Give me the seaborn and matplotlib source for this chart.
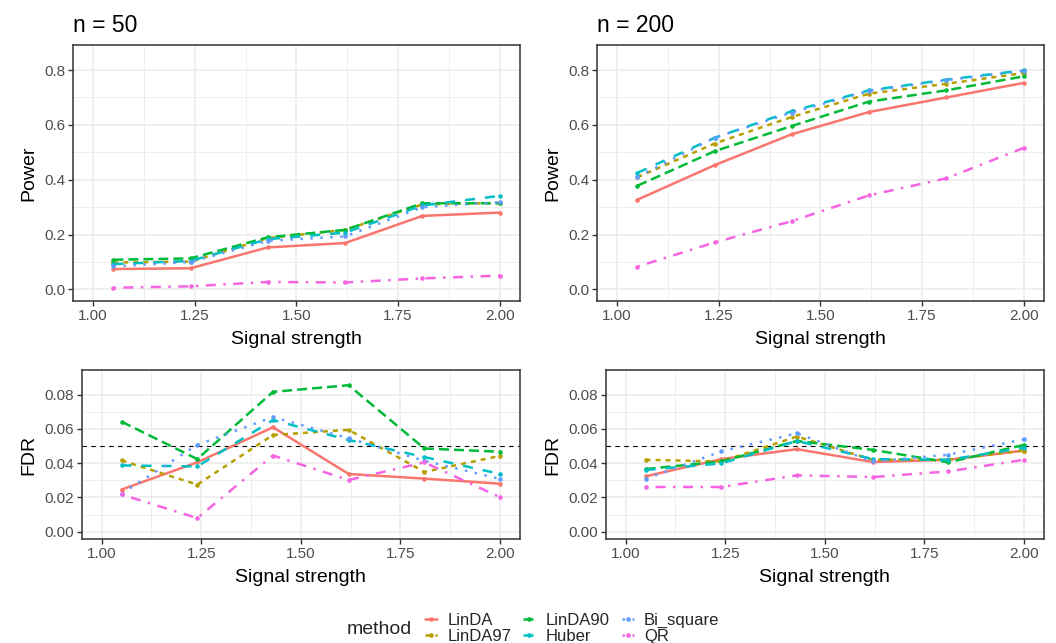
import numpy as np
import pandas as pd
import seaborn as sns
import matplotlib
matplotlib.use("Agg")
import matplotlib.pyplot as plt
from matplotlib.ticker import FixedLocator, FormatStrFormatter

# ---- data -------------------------------------------------------------
signal = [1.05, 1.24, 1.43, 1.62, 1.81, 2.00]
methods = ["LinDA", "LinDA97", "LinDA90", "Huber", "Bi_square", "QR"]

power_n50 = {
    "LinDA":     [0.074, 0.077, 0.153, 0.169, 0.268, 0.280],
    "LinDA97":   [0.098, 0.101, 0.187, 0.217, 0.310, 0.315],
    "LinDA90":   [0.108, 0.113, 0.190, 0.217, 0.314, 0.314],
    "Huber":     [0.092, 0.104, 0.183, 0.207, 0.306, 0.341],
    "Bi_square": [0.084, 0.100, 0.177, 0.193, 0.300, 0.318],
    "QR":        [0.006, 0.011, 0.027, 0.025, 0.040, 0.050],
}
power_n200 = {
    "LinDA":     [0.327, 0.453, 0.566, 0.647, 0.700, 0.753],
    "LinDA97":   [0.409, 0.532, 0.629, 0.714, 0.750, 0.789],
    "LinDA90":   [0.378, 0.504, 0.596, 0.685, 0.726, 0.777],
    "Huber":     [0.425, 0.553, 0.650, 0.726, 0.765, 0.799],
    "Bi_square": [0.410, 0.553, 0.645, 0.724, 0.763, 0.797],
    "QR":        [0.083, 0.171, 0.249, 0.343, 0.405, 0.516],
}
fdr_n50 = {
    "LinDA":     [0.0246, 0.0405, 0.0610, 0.0337, 0.0310, 0.0280],
    "LinDA97":   [0.0416, 0.0275, 0.0565, 0.0595, 0.0349, 0.0443],
    "LinDA90":   [0.0643, 0.0424, 0.0817, 0.0856, 0.0486, 0.0467],
    "Huber":     [0.0387, 0.0381, 0.0652, 0.0536, 0.0436, 0.0337],
    "Bi_square": [0.0222, 0.0507, 0.0670, 0.0546, 0.0414, 0.0308],
    "QR":        [0.0217, 0.0079, 0.0445, 0.0302, 0.0405, 0.0201],
}
fdr_n200 = {
    "LinDA":     [0.0323, 0.0424, 0.0482, 0.0407, 0.0420, 0.0474],
    "LinDA97":   [0.0420, 0.0410, 0.0556, 0.0420, 0.0420, 0.0474],
    "LinDA90":   [0.0366, 0.0410, 0.0530, 0.0478, 0.0405, 0.0507],
    "Huber":     [0.0360, 0.0399, 0.0530, 0.0424, 0.0420, 0.0490],
    "Bi_square": [0.0308, 0.0469, 0.0575, 0.0410, 0.0450, 0.0540],
    "QR":        [0.0261, 0.0261, 0.0329, 0.0319, 0.0352, 0.0420],
}
nominal_fdr = 0.05

x_ticks = [1.00, 1.25, 1.50, 1.75, 2.00]
power_ticks = [0.0, 0.2, 0.4, 0.6, 0.8]
fdr_ticks = [0.00, 0.02, 0.04, 0.06, 0.08]

# ---- styling ----------------------------------------------------------
sns.set_theme(style="white")
plt.rcParams["font.family"] = ["Liberation Sans", "DejaVu Sans"]

palette = dict(zip(methods, ["#F8766D", "#B79F00", "#00BA38",
                             "#00BFC4", "#619CFF", "#F564E3"]))
dashes = dict(zip(methods, ["", (2, 2), (4, 2), (4, 4), (1, 3), (1, 3, 4, 3)]))
markers = dict(zip(methods, ["o"] * 6))

GRID = "#EBEBEB"
DARK = "#333333"
TICKTXT = "#4D4D4D"

W, H = 1056, 643
fig = plt.figure(figsize=(W / 100, H / 100), dpi=100)


def px_axes(left, top, right, bottom):
    return fig.add_axes([left / W, 1 - bottom / H, (right - left) / W, (bottom - top) / H])


def long_frame(table):
    rows = []
    for m in methods:
        for s, v in zip(signal, table[m]):
            rows.append({"signal": s, "value": v, "method": m})
    df = pd.DataFrame(rows)
    df["method"] = pd.Categorical(df["method"], categories=methods, ordered=True)
    return df


def panel(ax, table, yticks, ylim, ylabel, yfmt, hline=None, legend=False):
    ax.set_axisbelow(True)
    sns.lineplot(data=long_frame(table), x="signal", y="value", hue="method",
                 style="method", hue_order=methods, style_order=methods,
                 palette=palette, dashes=dashes, markers=markers,
                 linewidth=1.8, markersize=3.3, markeredgewidth=0,
                 legend=legend, ax=ax, zorder=3)
    if hline is not None:
        ax.axhline(hline, color="black", lw=0.8, ls=(0, (4, 4)), zorder=2)
    ax.set_xlim(0.95, 2.05)
    ax.set_ylim(*ylim)
    ax.xaxis.set_major_locator(FixedLocator(x_ticks))
    ax.xaxis.set_minor_locator(FixedLocator([1.125, 1.375, 1.625, 1.875]))
    ax.yaxis.set_major_locator(FixedLocator(yticks))
    step = yticks[1] - yticks[0]
    ax.yaxis.set_minor_locator(FixedLocator([t + step / 2 for t in yticks[:-1]]))
    ax.xaxis.set_major_formatter(FormatStrFormatter("%.2f"))
    ax.yaxis.set_major_formatter(FormatStrFormatter(yfmt))
    ax.grid(which="major", color=GRID, lw=1.1)
    ax.grid(which="minor", color=GRID, lw=0.6)
    ax.tick_params(which="major", direction="out", length=3.5, width=1.0,
                   color=DARK, labelcolor=TICKTXT, labelsize=11, pad=2,
                   bottom=True, left=True)
    ax.tick_params(which="minor", length=0)
    for sp in ax.spines.values():
        sp.set_color(DARK)
        sp.set_linewidth(1.1)
    ax.set_xlabel("Signal strength", fontsize=14, color="black", labelpad=6)
    ax.set_ylabel(ylabel, fontsize=14, color="black", labelpad=5)


ax_tl = px_axes(72.7, 44.7, 520, 301)
ax_tr = px_axes(596.7, 44.7, 1044, 301)
ax_bl = px_axes(81.7, 370, 520, 539.3)
ax_br = px_axes(605.7, 370, 1044, 539.3)

power_lim = (-0.0425, 0.8925)
fdr_lim = (-0.0045, 0.0945)

panel(ax_tl, power_n50, power_ticks, power_lim, "Power", "%.1f", legend=True)
panel(ax_tr, power_n200, power_ticks, power_lim, "Power", "%.1f")
panel(ax_bl, fdr_n50, fdr_ticks, fdr_lim, "FDR", "%.2f", hline=nominal_fdr)
panel(ax_br, fdr_n200, fdr_ticks, fdr_lim, "FDR", "%.2f", hline=nominal_fdr)

ax_tl.set_title("n = 50", loc="left", fontsize=16.5, pad=9, color="black")
ax_tr.set_title("n = 200", loc="left", fontsize=16.5, pad=9, color="black")

# shared legend at the bottom, title on the left like a horizontal guide
handles, labels = ax_tl.get_legend_handles_labels()
ax_tl.get_legend().remove()
for h in handles:
    h.set_linewidth(1.8)
    h.set_markersize(3.3)
fig.legend(handles, labels, loc="center left", ncol=3,
           bbox_to_anchor=(425 / W, 1 - 628.5 / H), frameon=False,
           fontsize=12, handlelength=0.72, handletextpad=0.62,
           columnspacing=0.72, labelspacing=0.08, borderpad=0,
           borderaxespad=0)
fig.text(347 / W, 1 - 629 / H, "method", fontsize=14, ha="left", va="center")

fig.savefig("out.png", dpi=100)
